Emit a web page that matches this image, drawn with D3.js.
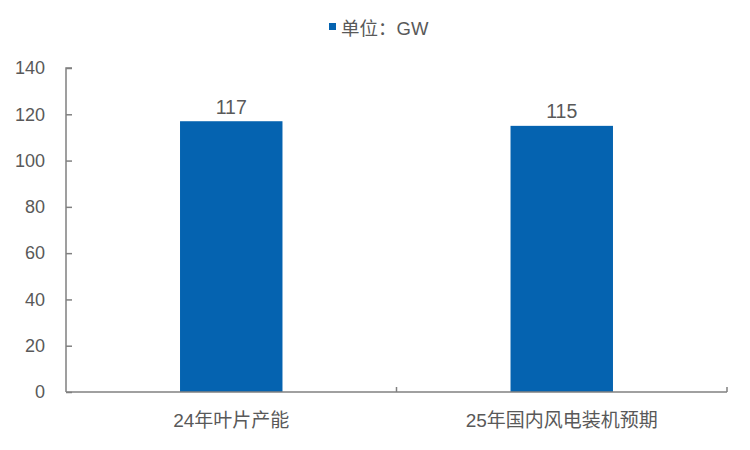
<!DOCTYPE html>
<html>
<head>
<meta charset="utf-8">
<script src="https://cdn.jsdelivr.net/npm/d3@7"></script>
<style>
  body { margin: 0; background: #fff; }
  svg text { font-family: "Liberation Sans", Arial, "Noto Sans CJK SC", sans-serif; fill: #595959; }
</style>
</head>
<body>
<svg id="chart" width="750" height="450"></svg>
<script>
const categories = ["24年叶片产能", "25年国内风电装机预期"];
const values = [117, 115];
const yTicks = [0, 20, 40, 60, 80, 100, 120, 140];
const legendLabel = "单位：GW";

const svg = d3.select("#chart");
const margin = { left: 66, right: 23, top: 68, bottom: 58 };
const width = 750, height = 450;
const barColor = "#0563b0";
const axisColor = "#808080";

const x = d3.scaleBand()
    .domain(categories)
    .range([margin.left, width - margin.right])
    .paddingInner(0.69)
    .paddingOuter(0.345);

const xOuter = d3.scaleBand()
    .domain(categories)
    .range([margin.left, width - margin.right]);

const y = d3.scaleLinear()
    .domain([0, 140])
    .range([height - margin.bottom, margin.top]);

// bars
svg.selectAll("rect.bar")
    .data(values)
    .join("rect")
    .attr("class", "bar")
    .attr("x", (d, i) => x(categories[i]))
    .attr("y", d => y(d))
    .attr("width", x.bandwidth())
    .attr("height", d => y(0) - y(d))
    .attr("fill", barColor);

// value labels
svg.selectAll("text.val")
    .data(values)
    .join("text")
    .attr("class", "val")
    .attr("x", (d, i) => x(categories[i]) + x.bandwidth() / 2)
    .attr("y", d => y(d) - 7.5)
    .attr("text-anchor", "middle")
    .attr("font-size", 19.5)
    .text(d => d);

// y axis
const yAxis = svg.append("g")
    .attr("transform", `translate(${margin.left},0)`)
    .call(d3.axisLeft(y).tickValues(yTicks).tickSize(-6).tickPadding(21));
yAxis.selectAll("path, line").attr("stroke", axisColor).attr("stroke-width", 1.5);
yAxis.select(".domain").attr("d", `M6,${y(140)}H0V${y(0)}`);
yAxis.selectAll("text")
    .attr("font-size", 18)
    .attr("fill", "#595959")
    .style("font-family", '"Liberation Sans", Arial, sans-serif');

// x axis
const xAxis = svg.append("g")
    .attr("transform", `translate(0,${y(0)})`);
xAxis.append("line")
    .attr("x1", margin.left).attr("x2", width - margin.right)
    .attr("stroke", axisColor).attr("stroke-width", 1.5);
const xTickPos = categories.map(c => xOuter(c) + xOuter.bandwidth());
xAxis.selectAll("line.tick")
    .data(xTickPos)
    .join("line")
    .attr("class", "tick")
    .attr("x1", d => d).attr("x2", d => d)
    .attr("y1", 0).attr("y2", -5)
    .attr("stroke", axisColor).attr("stroke-width", 1.5);
xAxis.selectAll("text")
    .data(categories)
    .join("text")
    .attr("x", c => xOuter(c) + xOuter.bandwidth() / 2)
    .attr("y", 35)
    .attr("text-anchor", "middle")
    .attr("font-size", 19)
    .text(d => d);

// legend
const legend = svg.append("g").attr("transform", "translate(329,23)");
legend.append("rect")
    .attr("x", 0).attr("y", 0)
    .attr("width", 7).attr("height", 7)
    .attr("fill", barColor);
legend.append("text")
    .attr("x", 12).attr("y", 12)
    .attr("font-size", 18.5)
    .text(legendLabel);
</script>
</body>
</html>
